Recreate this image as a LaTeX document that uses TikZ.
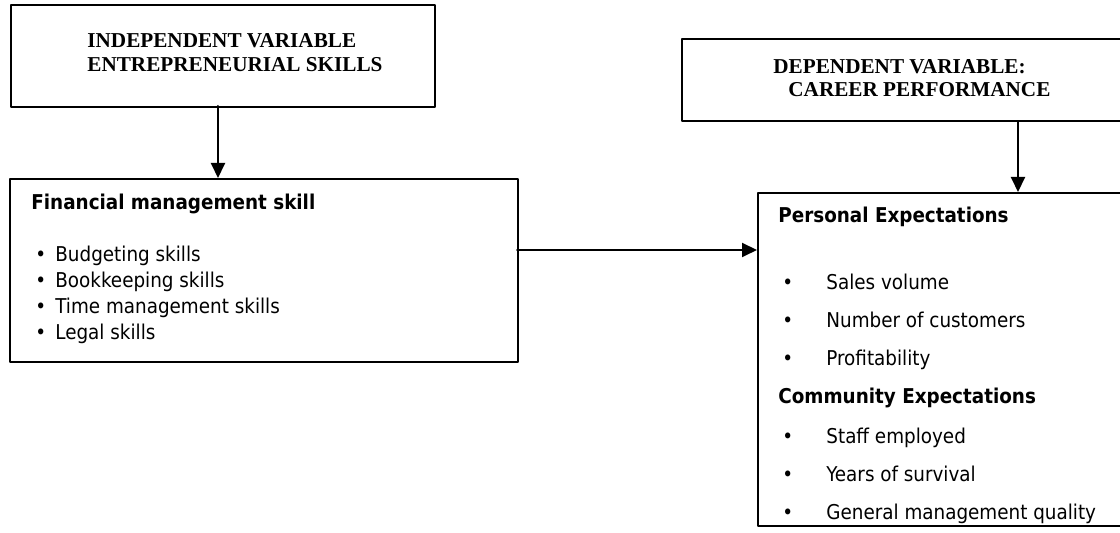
\documentclass[tikz,border=0pt]{standalone}
\usepackage{fontspec}
\setmainfont{DejaVu Sans Condensed}
\newfontfamily\timesfont{Liberation Serif}
\usetikzlibrary{arrows.meta}
\usetikzlibrary{positioning}

\begin{document}
\begin{tikzpicture}[line cap=round,line join=round,x=0.5pt,y=-0.5pt,
    box/.style={draw,line width=1pt,inner sep=0pt,anchor=north west},
    arr/.style={line width=1pt,-{Triangle[length=7.5pt,width=7pt]}},
    varlabel/.style={anchor=base west,inner sep=0pt,font=\timesfont\bfseries\fontsize{10.6}{12}\selectfont},
    head/.style={anchor=base west,inner sep=0pt,font=\bfseries\fontsize{10.2}{12}\selectfont},
    item/.style={anchor=base west,inner sep=0pt,font=\fontsize{10.2}{12}\selectfont}]
  \useasboundingbox (0,0) rectangle (1120,533);
  \clip (0,0) rectangle (1120,533);
  % Variablen oben
  \node[box,minimum width=212pt,minimum height=51pt] (indep) at (10,4) {};
  \node[varlabel] (indep1) at (87,48) {INDEPENDENT VARIABLE};
  \node[varlabel] (indep2) at (87,72) {ENTREPRENEURIAL SKILLS};
  \node[box,minimum width=336pt,minimum height=41pt] (dep) at (681,38) {};
  \node[varlabel] (dep1) at (773,74) {DEPENDENT VARIABLE:};
  \node[varlabel] (dep2) at (788,97) {CAREER PERFORMANCE};
  % linke Box
  \node[box,minimum width=254pt,minimum height=91.5pt] (fin) at (9,178) {};
  \node[head] (finhead) at (31,210) {Financial management skill};
  \foreach \txt [count=\i] in {Budgeting skills,Bookkeeping skills,Time management skills,Legal skills}
    {
    \node[item] (fb\i) at (35,236+26*\i) {•};
    \node[item] (fs\i) at (55,236+26*\i) {\txt};
    }
  % rechte Box
  \node[box,minimum width=250pt,minimum height=166.5pt] (perf) at (757,192) {};
  \node[head] (pershead) at (778,223) {Personal Expectations};
  \foreach \txt [count=\i] in {Sales volume,Number of customers,Profitability}
    {
    \node[item] (pb\i) at (782,252+38*\i) {•};
    \node[item] (ps\i) at (826,252+38*\i) {\txt};
    }
  \node[head] (commhead) at (778,404) {Community Expectations};
  \foreach \txt [count=\i] in {Staff employed,Years of survival,General management quality}
    {
    \node[item] (cb\i) at (782,406+38*\i) {•};
    \node[item] (cs\i) at (826,406+38*\i) {\txt};
    }
  % Pfeile
  \coordinate (drop) at (218,106);
  \coordinate (link) at (517,250);
  \draw[arr] (drop) -- (drop |- fin.north);
  \draw[arr] (dep.south) -- (dep.south |- perf.north);
  \draw[arr] (link) -- (link -| perf.west);
\end{tikzpicture}
\end{document}
